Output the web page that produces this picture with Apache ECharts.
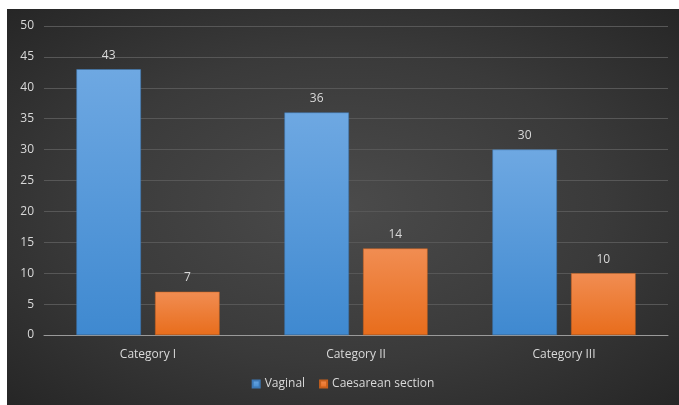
<!DOCTYPE html>
<html>
<head>
<meta charset="utf-8">
<script src="https://cdn.jsdelivr.net/npm/echarts@6/dist/echarts.min.js"></script>
<style>
  html, body { margin: 0; padding: 0; background: #fff; }
  #main {
    position: absolute; left: 7px; top: 9px; width: 672px; height: 396px;
    background: radial-gradient(ellipse at 50% 50%, #4b4b4b 0%, #3a3a3a 55%, #262626 100%);
  }
</style>
</head>
<body>
<div id="main"></div>
<script>
var categories = ["Category I", "Category II", "Category III"];
var vaginal = [43, 36, 30];
var caesarean = [7, 14, 10];
var yTicks = [0, 5, 10, 15, 20, 25, 30, 35, 40, 45, 50];

var font = "'Open Sans', sans-serif";
var textColor = "#d9d9d9";

var myChart = echarts.init(document.getElementById('main'));
var option = {
  backgroundColor: 'transparent',
  textStyle: { fontFamily: font },
  grid: { left: 37, right: 11, top: 17, bottom: 70 },
  legend: {
    bottom: 10,
    left: 'center',
    itemWidth: 7,
    itemHeight: 7,
    itemGap: 14,
    icon: 'rect',
    textStyle: { color: textColor, fontSize: 12, fontFamily: font },
    data: ['Vaginal', 'Caesarean section']
  },
  xAxis: {
    type: 'category',
    data: categories,
    axisLine: { lineStyle: { color: '#9a9a9a', width: 1 } },
    axisTick: { show: false },
    axisLabel: { color: textColor, fontSize: 12, margin: 14, fontFamily: font }
  },
  yAxis: {
    type: 'value',
    min: yTicks[0],
    max: yTicks[yTicks.length - 1],
    interval: 5,
    axisLine: { show: false },
    axisTick: { show: false },
    axisLabel: { color: textColor, fontSize: 12, margin: 10, fontFamily: font },
    splitLine: { lineStyle: { color: '#575757', width: 1 } }
  },
  series: [
    {
      name: 'Vaginal',
      type: 'bar',
      data: vaginal,
      barWidth: '31%',
      barGap: '22%',
      itemStyle: {
        color: new echarts.graphic.LinearGradient(0, 0, 0, 1, [
          { offset: 0, color: '#6ea8e2' },
          { offset: 1, color: '#3f89d0' }
        ]),
        borderColor: '#3d78b5',
        borderWidth: 0.5
      },
      label: { show: true, position: 'top', distance: 8, color: textColor, fontSize: 12, fontFamily: font }
    },
    {
      name: 'Caesarean section',
      type: 'bar',
      data: caesarean,
      barWidth: '31%',
      itemStyle: {
        color: new echarts.graphic.LinearGradient(0, 0, 0, 1, [
          { offset: 0, color: '#f18d52' },
          { offset: 1, color: '#e86d1c' }
        ]),
        borderColor: '#c8601c',
        borderWidth: 0.5
      },
      label: { show: true, position: 'top', distance: 8, color: textColor, fontSize: 12, fontFamily: font }
    }
  ]
};
myChart.setOption(option);
</script>
</body>
</html>
